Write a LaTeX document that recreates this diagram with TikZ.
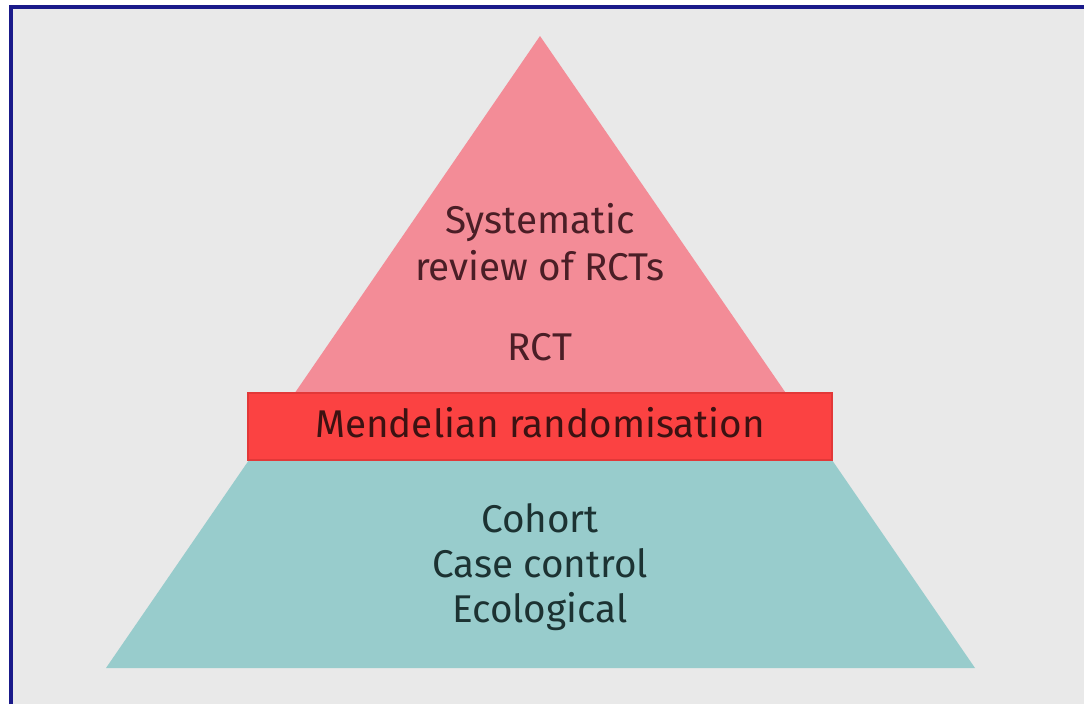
\documentclass[tikz,border=0pt]{standalone}
\usepackage{fontspec}
\setmainfont{Fira Sans}
\definecolor{bgc}{HTML}{E9E9E9}
\definecolor{framec}{HTML}{1A1A8A}
\definecolor{pinkc}{HTML}{F38C97}
\definecolor{redc}{HTML}{FB4242}
\definecolor{redline}{HTML}{E23838}
\definecolor{tealc}{HTML}{98CCCC}
\definecolor{pinktext}{HTML}{4A1E26}
\definecolor{redtext}{HTML}{3C1212}
\definecolor{tealtext}{HTML}{1C3232}
\begin{document}
\begin{tikzpicture}[x=0.75pt,y=-0.75pt,
  lbl/.style={anchor=base,inner sep=0pt,font=\fontsize{29}{33}\selectfont}]
\useasboundingbox (0,0) rectangle (1084,704);
\fill[white] (0,0) rectangle (1084,704);
\fill[bgc] (11,7) rectangle (1084,704);
\draw[framec,line width=2.5pt] (11,704) -- (11,7) -- (1084,7);
% pyramid
\fill[pinkc] (540,36) -- (294.8,393) -- (785.8,393) -- cycle;
\fill[tealc] (249,460) -- (832,460) -- (975,668) -- (106,668) -- cycle;
\fill[redc,draw=redline,line width=0.8pt] (248,393) rectangle (832,460);
% texts
\node[lbl,text=pinktext] (sys) at (540,233) {Systematic};
\node[lbl,text=pinktext] (rev) at (540,280) {review of RCTs};
\node[lbl,text=pinktext] (rct) at (540,360) {RCT};
\node[lbl,text=redtext] (mr) at (540,437) {Mendelian randomisation};
\node[lbl,text=tealtext] (coh) at (540,532) {Cohort};
\node[lbl,text=tealtext] (cc) at (540,577) {Case control};
\node[lbl,text=tealtext] (eco) at (540,622) {Ecological};
\end{tikzpicture}
\end{document}
